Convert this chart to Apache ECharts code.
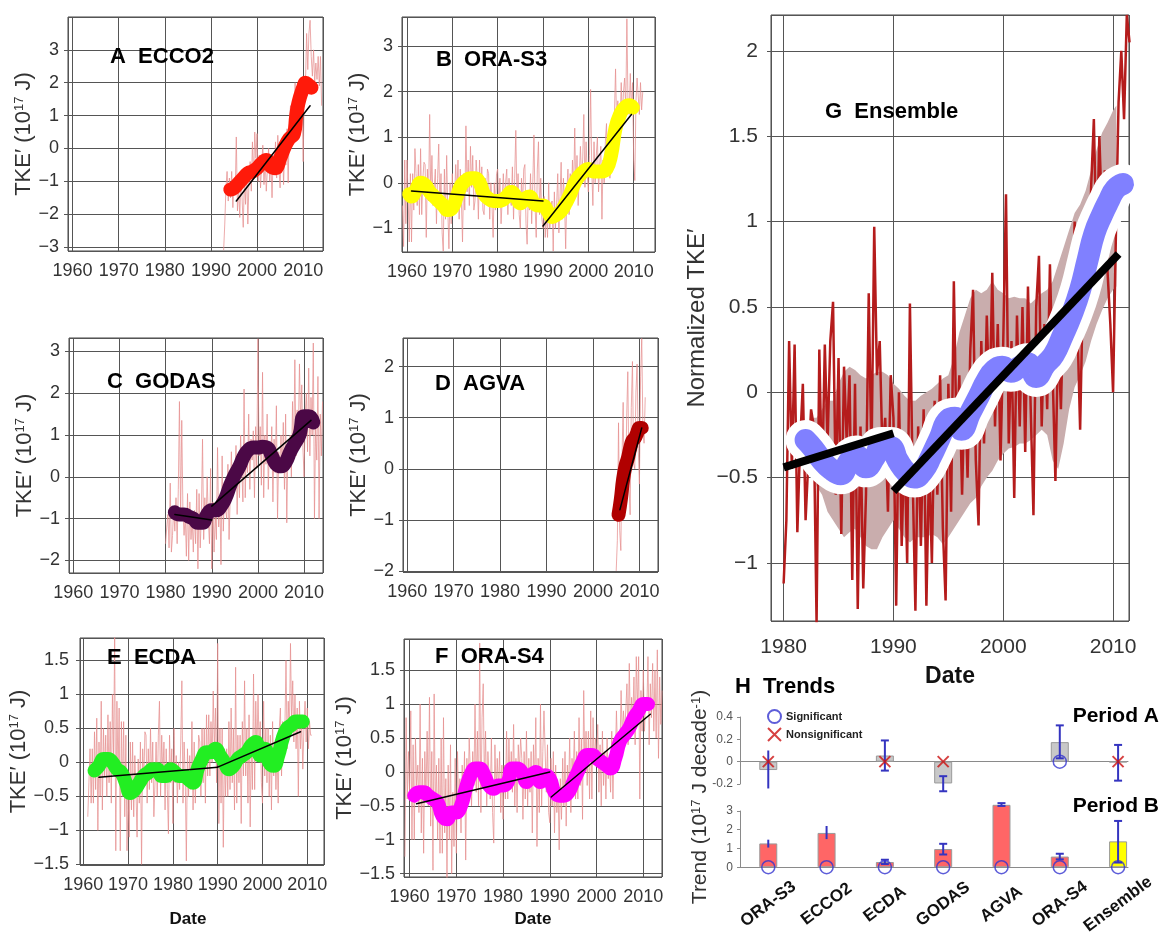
<!DOCTYPE html>
<html><head><meta charset="utf-8">
<script src="https://cdn.jsdelivr.net/npm/echarts@6/dist/echarts.min.js"></script>
<style>html,body{margin:0;padding:0;background:#fff}#c{width:1160px;height:937px}</style>
</head><body><div id="c"></div>
<script>
// ---------- DATA ----------
const STEP = 0.25; // noisy series: quarterly samples
// A ECCO2
const aNoiseStart = 1992.75;
const aNoise = [-3.1,
 -2.3,-1.2,-0.7,-1.6, -0.9,-1.5,-0.7,-1.8, -1.0,-1.4,0.35,-1.9, -1.2,-2.1,-0.8,-1.5,
 -2.4,-0.9,-1.7,-0.6, -2.3,-1.0,-0.4,-1.3, 0.2,-0.9,0.5,-0.3, 0.45,-1.0,-0.2,-1.2,
 -0.5,0.1,-1.1,-0.3, -1.3,-0.6,0.0,-1.0, -0.4,-1.5,-0.2,-0.8, 0.2,-0.9,0.4,-0.6,
 -1.2,-0.1,0.3,-1.1, 0.1,-0.5,0.6,-1.05, 0.8,1.3,0.3,1.1, 0.5,2.0,0.9,1.5,
 0.7,2.0,1.2,1.6, -0.4,1.8,2.0,3.5, 2.4,3.5,3.9,2.8, 2.2,3.0,2.0,2.6, 2.1,2.8,1.9,2.8, 1.3];
const aSmoothYears = [1994.2,1995,1996,1997,1998,1999,2000,2001,2002,2003,2004,2005,2006,2007,2008,2008.5,2009,2010,2010.5,2011,2011.8];
const aSmooth = [-1.25,-1.2,-1.05,-0.9,-0.75,-0.7,-0.6,-0.45,-0.35,-0.55,-0.6,-0.3,0.05,0.3,0.45,1.0,1.4,1.85,2.0,1.95,1.85];
const aTrend = [[1995.5,-1.6,2011.5,1.3]];
// B ORA-S3
const bNoiseStart = 1959.0;
const bNoise = [
 -0.5,-1.4,0.5,-0.9, 0.5,-0.3,-1.3,0.2, -1.3,0.2,-0.6,0.75, 0.2,-0.5,0.4,-0.7, 0.75,-0.7,0.1,0.45,
 0.4,-1.2,0.3,-0.4, 1.5,-0.3,0.6,-0.5, -0.5,0.3,-0.9,0.1, 0.85,-0.6,0.2,-1.1, -1.5,0.3,-0.8,0.6,
 -0.6,-1.45,0.0,-0.9, 0.2,-0.7,-0.3,0.4, -0.3,0.5,-0.8,0.3, -0.4,-1.3,0.2,-0.6, 1.25,-0.2,0.5,-0.5,
 0.8,-0.1,0.6,-0.6, -0.4,0.5,0.1,-0.8, 0.5,-0.3,0.35,-0.6, -0.7,0.1,-0.4,0.3, 0.2,-0.8,0.0,-0.5,
 -1.2,0.0,-0.6,0.2, 0.3,-0.5,0.1,-0.9, -0.9,0.2,-0.4,0.0, 0.3,-0.7,0.1,-0.3, -0.5,0.35,-0.8,0.1,
 1.15,-0.4,0.2,-0.7, -1.0,0.1,-0.5,0.3, 0.4,-0.9,-1.35,-0.2, -0.6,0.2,-0.9,0.0, 1.05,-0.5,-1.2,0.3,
 0.9,-0.7,0.1,-0.8, -1.0,-0.3,-1.2,-0.6, -1.2,0.0,-1.0,-0.5, -0.4,-1.5,-0.2,-1.0, -0.5,0.2,-1.1,-0.3,
 0.45,-0.8,0.1,-0.4, -1.45,-0.2,0.3,-0.7, 0.2,-0.4,0.5,-0.2, 1.2,-0.3,0.6,-0.5, -0.5,0.8,0.1,0.5,
 1.5,-0.1,0.9,0.2, -0.2,0.6,2.05,0.3, -0.5,0.9,0.0,0.6, 1.0,-0.2,0.4,0.8, -0.8,0.5,0.0,0.9,
 1.3,0.2,0.7,0.1, 0.1,0.8,0.4,1.5, 2.5,1.2,1.8,1.0, 1.2,2.2,1.4,2.0, 2.3,1.6,3.6,1.7,
 1.5,2.4,1.6,2.2, 0.5,0.05,1.8,2.3, 2.3,1.5,2.2,1.6, 2.0];
const bSmoothYears = [1960.5,1961,1962,1963,1964,1965,1966,1967,1968,1969,1970,1971,1972,1973,1974,1975,1976,1977,1978,1979,1980,1981,1982,1983,1984,1985,1986,1987,1988,1989,1990,1991,1992,1993,1994,1995,1996,1997,1998,1999,2000,2001,2002,2003,2004,2005,2006,2007,2008,2009,2009.8];
const bSmooth = [-0.25,-0.3,-0.15,0.0,-0.05,-0.2,-0.3,-0.4,-0.5,-0.6,-0.55,-0.3,-0.05,0.05,0.1,0.1,0.0,-0.25,-0.35,-0.4,-0.4,-0.38,-0.3,-0.2,-0.3,-0.45,-0.35,-0.3,-0.45,-0.5,-0.5,-0.62,-0.75,-0.7,-0.62,-0.45,-0.25,0.0,0.15,0.25,0.3,0.25,0.25,0.25,0.3,0.6,1.2,1.5,1.65,1.7,1.65];
const bTrend = [[1961,-0.18,1990,-0.4],[1990,-0.95,2009.5,1.5]];
// C GODAS
const cNoiseStart = 1980.0;
const cNoise = [
 -1.6,-1.2,-0.9,-1.7, -0.15,-1.8,-1.4,-0.7, -1.3,-0.5,-1.6,-0.3, 1.8,-1.0,1.35,-0.8, -1.4,-0.9,-1.9,-0.4,
 -2.0,-0.6,-1.5,-1.0, -1.8,-0.8,-1.6,-0.3, -2.2,-0.4,-1.7,-0.9, 0.9,-1.5,-0.5,-1.2, 0.0,-1.0,-1.6,0.2,
 -2.2,-0.6,-1.8,-0.9, -1.5,0.7,-1.2,-0.5, -2.1,0.5,-1.3,-0.4, -0.8,-1.0,0.3,-1.5, -1.5,0.6,-0.4,0.3,
 -0.3,0.75,-0.9,0.4, -0.5,1.0,0.2,-0.6, 2.1,-0.5,0.8,0.1, 1.5,-0.3,0.9,0.4, 1.1,-0.5,1.2,0.2,
 3.3,0.5,1.2,-0.2, 2.5,-0.5,1.0,0.3, 1.5,-0.3,0.8,0.2, 1.2,-0.6,0.9,0.1, 1.7,-1.0,0.6,0.2,
 1.0,0.2,1.3,-0.3, 1.5,-1.1,0.7,0.4, 1.0,0.0,1.8,0.6, 2.8,0.5,1.6,0.9, 2.7,1.3,2.2,0.7,
 0.0,1.5,2.0,0.6, 2.6,0.5,1.9,1.0, 3.2,-1.0,1.2,0.4, 2.4,-1.0,1.5,0.5, 1.8];
const cSmoothYears = [1982,1983,1984,1985,1986,1987,1988,1989,1990,1991,1992,1993,1994,1995,1996,1997,1998,1999,2000,2001,2002,2003,2004,2005,2006,2007,2008,2009,2010,2011,2012];
const cSmooth = [-0.85,-0.9,-0.9,-0.95,-1.0,-1.1,-1.1,-0.9,-0.8,-0.8,-0.7,-0.5,-0.2,0.05,0.25,0.5,0.65,0.7,0.7,0.72,0.7,0.5,0.3,0.25,0.35,0.6,0.8,1.0,1.45,1.45,1.3];
const cTrend = [[1982,-0.9,1990,-1.03],[1990,-0.7,2011.5,1.35]];
// D AGVA
const dNoiseStart = 2005.0;
const dNoise = [-2.0,-1.4,0.9,-1.2, -1.6,0.2,1.3,-0.9, -0.6,1.0,1.9,-0.3, -0.9,1.2,2.1,0.1, 0.0,1.5,2.05,0.4, -0.3,1.8,2.55,0.8, 0.5,1.4];
const dSmoothYears = [2005.5,2006,2006.5,2007,2007.5,2008,2008.5,2009,2009.5,2010,2010.5];
const dSmooth = [-0.9,-0.6,-0.2,0.05,0.2,0.4,0.55,0.6,0.7,0.8,0.8];
const dTrend = [[2005.8,-0.8,2010.5,0.8]];
// E ECDA
const eNoiseStart = 1961.0;
const eNoise = [
 -0.8,-0.3,0.2,-0.6, 0.2,-0.6,0.45,-0.4, 0.65,-1.0,0.3,-0.5, 0.9,-0.7,0.5,-0.2, 0.4,-0.5,0.7,-0.3,
 0.6,-0.6,1.0,0.1, 1.85,-1.3,0.9,-0.2, 0.8,-1.3,0.6,-0.5, 0.6,-0.8,0.4,-1.3, -0.5,-1.1,0.3,-0.7,
 0.3,-0.8,0.1,-0.4, -1.1,0.05,-0.6,0.3, -1.5,0.2,-0.3,0.45, 0.4,-0.6,0.2,-0.4, 0.5,-0.3,0.3,-0.8,
 -0.3,0.3,-0.5,0.4, 0.9,-0.5,0.4,-0.2, 0.3,-0.7,0.2,-0.4, -1.05,0.4,-0.3,0.2, -0.9,0.5,-0.3,0.1,
 -0.6,0.0,-0.4,0.3, 1.2,-0.6,0.3,-0.2, -1.45,0.2,-0.5,0.1, -0.4,0.6,-0.7,0.3, -0.6,0.1,-0.3,0.4,
 0.3,-0.5,0.5,-0.3, 0.5,-0.6,0.7,-0.2, 0.7,-0.2,0.6,0.0, 1.05,0.2,0.8,-0.3, 1.75,-0.9,0.5,-0.6,
 0.5,-1.25,0.2,-0.5, 0.2,-0.5,0.6,-0.4, 0.8,-0.3,0.5,-0.7, 1.4,-0.6,0.4,-0.3, 0.4,-0.9,0.6,-0.2,
 1.2,-0.2,0.5,-0.6, 0.7,-0.95,0.3,-0.4, 1.3,-0.4,0.9,0.1, 1.0,0.2,0.6,-0.3, -0.6,0.9,-0.2,0.5,
 -0.3,0.5,-0.5,0.4, -0.7,0.6,-0.2,0.3, -0.4,0.2,-0.6,0.5, 0.8,-0.2,0.6,0.1, 0.5,1.5,0.2,0.9,
 0.4,1.75,0.6,1.2, 0.3,1.0,0.2,0.8, -0.5,0.9,0.2,0.6, -0.1,0.5,0.9,0.3, 0.8,0.2,0.6,0.4, 0.4];
const eSmoothYears = [1962.5,1963.5,1964.5,1965.5,1966.5,1967.5,1968.5,1969.5,1970.5,1971.5,1972.5,1973.5,1974.5,1975.5,1976.5,1977.5,1978.5,1979.5,1980.5,1981.5,1982.5,1983.5,1984.5,1985.5,1986.5,1987.5,1988.5,1989.5,1990.5,1991.5,1992.5,1993.5,1994.5,1995.5,1996.5,1997.5,1998.5,1999.5,2000.5,2001.5,2002.5,2003.5,2004.5,2005.5,2006.5,2007.5,2008.5,2009];
const eSmooth = [-0.12,-0.05,0.05,0.05,0.0,-0.1,-0.15,-0.3,-0.45,-0.4,-0.3,-0.2,-0.15,-0.1,-0.1,-0.2,-0.2,-0.1,-0.15,-0.2,-0.2,-0.25,-0.3,-0.1,0.05,0.15,0.15,0.2,0.1,0.0,-0.1,-0.05,0.05,0.1,0.15,0.25,0.3,0.1,0.2,0.0,-0.05,0.1,0.35,0.5,0.55,0.6,0.6,0.6];
const eTrend = [[1963.5,-0.22,1990,-0.07],[1990,-0.07,2008.5,0.45]];
// F ORA-S4
const fNoiseStart = 1959.0;
const fNoise = [
 -1.25,0.8,-0.4,0.3, -0.3,0.9,-1.0,0.4, -1.0,0.5,-0.2,0.1, -0.6,1.0,-0.9,0.2, -1.2,0.3,-0.4,0.6,
 -0.5,1.1,-0.8,0.3, -1.45,1.15,-0.6,0.1, -1.0,0.2,-1.2,0.5, -1.2,0.8,-0.9,-0.1, -1.6,0.1,-1.0,0.4,
 -1.5,-0.3,-1.1,0.2, -1.2,0.3,-0.6,-0.1, -0.9,0.1,-0.5,0.3, -1.3,0.2,-0.4,0.5, 0.5,-0.5,0.3,-0.2,
 1.0,-0.3,0.6,-0.5, 1.9,-0.6,0.8,1.3, -0.2,0.6,-0.5,0.3, 0.3,-0.4,0.5,-0.6, -1.05,0.4,-0.3,0.2,
 -0.3,0.3,-0.6,0.1, -0.7,0.1,-0.4,0.6, -0.4,0.5,-0.2,0.3, -0.3,0.7,-0.5,0.2, -0.6,0.4,0.0,0.5,
 0.2,-0.7,0.3,-0.4, 0.6,-0.5,0.2,-0.3, 0.3,-0.9,0.4,-0.2, 0.8,-1.1,0.2,-0.6, 1.0,-0.5,0.3,0.9,
 0.9,-0.3,0.4,-0.6, -0.75,0.2,-0.5,0.3, -0.9,0.1,-0.6,-0.2, -1.15,-0.1,-0.7,0.2, -0.5,0.3,-0.8,0.1,
 -0.3,0.5,-0.6,0.2, -0.1,0.6,-0.4,0.3, -0.4,0.8,-0.2,0.5, -0.7,1.2,0.0,0.6, -0.2,0.6,-0.4,0.9,
 -0.4,0.8,0.1,0.5, 0.1,0.7,-0.3,0.4, -0.5,0.6,-0.2,0.3, -0.4,0.5,-0.1,0.2, -0.3,0.6,-0.4,0.4,
 0.1,0.9,0.3,0.6, 0.3,1.2,0.5,0.9, 0.6,0.9,1.3,0.4, 1.6,0.6,1.1,0.8, 1.4,0.4,1.7,0.9,
 1.7,-0.4,1.2,0.6, 1.5,0.6,1.1,0.9, 1.7,0.4,1.3,0.8, 1.6,0.6,1.5,0.5, 1.8,0.2,1.4,0.7, 1.2];
const fSmoothYears = [1961,1962,1963,1964,1965,1966,1967,1968,1969,1970,1971,1972,1973,1974,1975,1976,1977,1978,1979,1980,1981,1982,1983,1984,1985,1986,1987,1988,1989,1990,1991,1992,1993,1994,1995,1996,1997,1998,1999,2000,2001,2002,2003,2004,2005,2006,2007,2008,2009,2010,2011];
const fSmooth = [-0.35,-0.3,-0.3,-0.35,-0.4,-0.45,-0.65,-0.7,-0.6,-0.6,-0.5,-0.25,-0.05,0.05,0.05,-0.05,-0.2,-0.25,-0.2,-0.2,-0.15,0.05,0.05,0.0,-0.15,-0.05,0.0,-0.15,-0.05,-0.1,-0.3,-0.35,-0.35,-0.3,-0.15,0.0,0.15,0.25,0.25,0.2,0.15,0.1,0.05,0.2,0.45,0.55,0.65,0.8,0.9,1.0,1.0];
const fTrend = [[1961.5,-0.47,1990,0.0],[1990.3,-0.37,2011.5,0.85]];
// G Ensemble
const gNoiseStart = 1980.0;
const gNoise = [
 -1.12,-0.75,0.30,-0.45, 0.28,-0.82,-0.30,0.05, -0.75,-0.40,-0.10,-0.20, -1.35,0.25,-0.55,0.28,
 -0.30,0.30,0.53,-0.60, 0.20,-0.83,0.15,-0.30, 0.10,-1.10,0.05,-1.27, -0.20,-1.15,-0.60,0.58,
 -0.40,0.97,0.10,0.30, -0.35,-0.15,-0.70,0.10, -0.15,-1.25,0.00,-0.90, -0.30,-1.00,0.52,-0.50,
 -1.28,-0.20,-0.90,-0.10, -1.25,-0.40,-1.00,-0.05, -0.60,0.10,-0.80,-1.22, 0.05,-0.70,0.65,-0.30,
 0.10,-0.60,0.05,-0.50, 0.25,0.60,-0.40,-0.78, 0.30,-0.30,0.45,-0.10, 0.70,-0.20,0.40,-0.40,
 0.30,1.16,-0.30,0.30, -0.62,0.45,-0.20,0.50, -0.35,0.62,-0.10,-0.72, 0.50,0.80,-0.20,0.40,
 -0.10,0.75,0.10,-0.52, 0.35,-0.10,0.55,0.20, 0.70,0.30,1.00,0.40, -0.22,0.60,0.90,0.50,
 1.20,1.60,0.80,1.50, 1.00,1.30,0.70,0.40, 0.00,0.90,1.70,2.00, 1.60,2.21,2.05];
const gBandYears = [1981.8,1982.5,1983,1983.5,1984,1984.5,1985,1985.5,1986,1986.5,1987,1987.5,1988,1988.5,1989,1989.5,1990,1990.5,1991,1991.5,1992,1992.5,1993,1993.5,1994,1994.5,1995,1995.5,1996,1996.5,1997,1997.5,1998,1998.5,1999,1999.5,2000,2000.5,2001,2001.5,2002,2002.5,2003,2003.5,2004,2004.5,2005,2005.5,2006,2006.5,2007,2007.5,2008,2008.5,2009,2009.5,2010,2010.3];
const gBandLow = [-0.30,-0.45,-0.55,-0.60,-0.70,-0.75,-0.80,-0.85,-0.82,-0.80,-0.85,-0.90,-0.92,-0.92,-0.85,-0.80,-0.75,-0.80,-0.85,-0.88,-0.85,-0.85,-0.85,-0.83,-0.85,-0.89,-0.85,-0.80,-0.75,-0.70,-0.65,-0.62,-0.55,-0.50,-0.46,-0.40,-0.36,-0.33,-0.32,-0.30,-0.30,-0.28,-0.25,-0.22,-0.25,-0.40,-0.45,-0.30,-0.10,0.03,0.10,0.18,0.30,0.40,0.48,0.55,0.60,0.62];
const gBandHigh = [-0.25,-0.15,-0.15,-0.10,-0.05,-0.05,0.05,0.12,0.15,0.13,0.10,0.08,0.10,0.12,0.12,0.10,0.05,0.02,-0.02,-0.05,-0.05,-0.02,0.00,0.02,0.05,0.08,0.10,0.20,0.35,0.45,0.55,0.60,0.58,0.60,0.65,0.60,0.58,0.55,0.56,0.55,0.55,0.52,0.55,0.58,0.60,0.65,0.75,0.85,0.95,1.05,1.10,1.18,1.30,1.42,1.52,1.58,1.65,1.68];
const gSmoothYears = [1982.0,1982.7,1983.5,1984.3,1985.2,1986.0,1986.6,1987.5,1988.3,1988.9,1989.7,1990.4,1991.2,1991.9,1992.7,1993.4,1994.2,1995.0,1995.6,1996.2,1997.0,1997.8,1998.5,1999.2,1999.9,2000.7,2001.5,2002.2,2003.0,2003.8,2004.6,2005.4,2006.2,2007.0,2007.7,2008.3,2009.0,2009.6,2010.2,2010.9];
const gSmooth = [-0.28,-0.33,-0.40,-0.45,-0.48,-0.40,-0.37,-0.44,-0.38,-0.32,-0.32,-0.40,-0.47,-0.50,-0.46,-0.38,-0.27,-0.16,-0.15,-0.22,-0.12,-0.02,0.07,0.13,0.15,0.12,0.15,0.17,0.09,0.16,0.22,0.33,0.45,0.60,0.78,0.93,1.04,1.12,1.19,1.22];
const gTrend = [[1980,-0.44,1990,-0.24],[1990,-0.58,2010.5,0.81]];
// H Trends
const hNames = ['ORA-S3','ECCO2','ECDA','GODAS','AGVA','ORA-S4','Ensemble'];
const trendA = [-0.075, null, 0.055, -0.195, null, 0.175, -0.005];
const errALow = [-0.24, null, -0.08, -0.265, null, 0.03, -0.17];
const errAHigh = [0.10, null, 0.19, -0.13, null, 0.325, 0.15];
const sigA = [false, null, false, false, null, true, false];
const trendB = [1.27, 1.83, 0.28, 0.97, 3.33, 0.57, 1.38];
const errBLow = [1.05, 1.50, 0.17, 0.68, 3.27, 0.42, 0.25];
const errBHigh = [1.47, 2.20, 0.40, 1.25, 3.42, 0.72, 2.47];
const sigB = [true, true, true, true, true, true, true];

// ---------- BUILD ----------
const FONT = '"Liberation Sans", Arial, sans-serif';
const grids = [], xAxes = [], yAxes = [], series = [], graphics = [];
const minus = v => String(v).replace('-', '\u2212');

function addTimePanel(p) {
  const gi = grids.length;
  grids.push({left:p.box[0], top:p.box[1], width:p.box[2], height:p.box[3], show:true, borderColor:'#444', borderWidth:1});
  xAxes.push({gridIndex:gi, type:'value', min:p.x[0], max:p.x[1], minInterval:p.xs, maxInterval:p.xs,
    axisLine:{show:false}, axisTick:{show:true, length:4, lineStyle:{color:'#555'}},
    splitLine:{show:true, lineStyle:{color:'#555', width:1}},
    axisLabel:{showMinLabel:false, showMaxLabel:false, fontSize:p.fs, color:'#333', fontFamily:FONT, margin:p.xm,
      formatter: v => String(Math.round(v))},
    name: p.xName || '', nameLocation:'middle', nameGap:p.xng || 30,
    nameTextStyle:{fontSize:p.xnfs || 17, fontWeight:'bold', color:'#111', fontFamily:FONT, padding:p.xpad || 0}
  });
  yAxes.push({gridIndex:gi, type:'value', min:p.y[0], max:p.y[1], minInterval:p.ys, maxInterval:p.ys,
    axisLine:{show:false}, axisTick:{show:true, length:4, lineStyle:{color:'#555'}},
    splitLine:{show:true, lineStyle:{color:'#555', width:1}},
    axisLabel:{showMinLabel:false, showMaxLabel:false, fontSize:p.fs, color:'#333', fontFamily:FONT, margin:p.ym, formatter:minus},
    name: p.yName, nameLocation:'middle', nameGap:p.yng,
    nameTextStyle:{fontSize:p.ynfs, color:'#333', fontFamily:FONT, rich:{s:{fontSize:Math.round(p.ynfs*0.6), verticalAlign:'top', color:'#333', fontFamily:FONT}}}
  });
  const ax = {xAxisIndex:gi, yAxisIndex:gi};
  if (p.band) {
    const band = p.band;
    series.push(Object.assign({type:'custom', silent:true, z:1, clip:true,
      data: band.years.map((t,i)=>[t, band.low[i], band.high[i]]), encode:{x:0, y:[1,2]},
      renderItem: (params, api) => {
        if (params.dataIndex !== 0) return null;
        const pts = [];
        band.years.forEach((t,i) => pts.push(api.coord([t, band.high[i]])));
        for (let i = band.years.length-1; i >= 0; i--) pts.push(api.coord([band.years[i], band.low[i]]));
        return {type:'polygon', shape:{points:pts}, style:{fill:'#c9adad'}};
      }}, ax));
  }
  series.push(Object.assign({type:'line', silent:true, showSymbol:false, z:2,
    lineStyle:{color:p.noiseColor, width:p.noiseWidth, opacity:p.noiseOpacity},
    data: p.noise.map((v,i)=>[p.start + i*STEP, v])}, ax));
  if (p.outline) {
    series.push(Object.assign({type:'line', silent:true, showSymbol:false, smooth:0.5, z:3,
      lineStyle:{color:'#ffffff', width:p.outline, cap:'round', join:'round'},
      data: p.smX.map((t,i)=>[t, p.smY[i]])}, ax));
  }
  series.push(Object.assign({type:'line', silent:true, showSymbol:false, smooth:0.5, z:4,
    lineStyle:{color:p.color, width:p.smW, cap:'round', join:'round'},
    data: p.smX.map((t,i)=>[t, p.smY[i]])}, ax));
  p.trend.forEach(s => series.push(Object.assign({type:'line', silent:true, showSymbol:false, z:5,
    lineStyle:{color:'#000', width:p.trW, cap:p.trW>3?'butt':'round'},
    data:[[s[0],s[1]],[s[2],s[3]]]}, ax)));
  graphics.push({type:'text', x:p.tpos[0], y:p.tpos[1], z:50,
    style:{text:p.title, fontSize:p.tfs, fontWeight:'bold', fontFamily:FONT, fill:'#000', align:'left', verticalAlign:'middle'}});
}

const YN = 'TKE\u2032 (10{s|17} J)';
const common = {xs:10, fs:18, xm:11, ym:9, yName:YN, ynfs:22, noiseColor:'#e58f8f', noiseWidth:1, noiseOpacity:0.75, smW:14, trW:1.5, tfs:22};
const defs = [
  {title:'A  ECCO2', tpos:[110,57], box:[68,17,255,234], x:[1959,2014.3], y:[-3.12,4.0], ys:1, yng:30,
   start:aNoiseStart, noise:aNoise, smX:aSmoothYears, smY:aSmooth, trend:aTrend, color:'#ff1a0a'},
  {title:'B  ORA-S3', tpos:[436,60], box:[402,17,253,235], x:[1958.9,2014.7], y:[-1.52,3.64], ys:1, yng:33,
   start:bNoiseStart, noise:bNoise, smX:bSmoothYears, smY:bSmooth, trend:bTrend, color:'#ffff00'},
  {title:'C  GODAS', tpos:[107,382], box:[69,338,254,235], x:[1959.07,2014.1], y:[-2.3,3.32], ys:1, yng:30,
   start:cNoiseStart, noise:cNoise, smX:cSmoothYears, smY:cSmooth, trend:cTrend, color:'#4b0846'},
  {title:'D  AGVA', tpos:[435,384], box:[403,338,255,234], x:[1959.1,2014], y:[-2.02,2.56], ys:1, yng:30,
   start:dNoiseStart, noise:dNoise, smX:dSmoothYears, smY:dSmooth, trend:dTrend, color:'#b00000'},
  {title:'E  ECDA', tpos:[107,658], box:[80,638,244,227], x:[1959.26,2013.73], y:[-1.51,1.83], ys:0.5, yng:44, ym:11,
   xName:'Date', xng:46, xpad:[0,28,0,0],
   start:eNoiseStart, noise:eNoise, smX:eSmoothYears, smY:eSmooth, trend:eTrend, color:'#22ee22'},
  {title:'F  ORA-S4', tpos:[435,657], box:[404,639,258,238], x:[1958.8,2014], y:[-1.55,1.96], ys:0.5, yng:45,
   xName:'Date', xng:34,
   start:fNoiseStart, noise:fNoise, smX:fSmoothYears, smY:fSmooth, trend:fTrend, color:'#ff00ff'},
  {title:'G  Ensemble', tpos:[825,112], box:[771,15,358,606], x:[1978.85,2011.45], y:[-1.34,2.21], ys:0.5, yng:62,
   fs:21, xm:16, ym:13, yName:'Normalized TKE\u2032', ynfs:24, xName:'Date', xng:44, xnfs:23,
   noiseColor:'#b51c1c', noiseWidth:2.5, noiseOpacity:1, smW:22, outline:40, trW:8,
   band:{years:gBandYears, low:gBandLow, high:gBandHigh},
   start:gNoiseStart, noise:gNoise, smX:gSmoothYears, smY:gSmooth, trend:gTrend, color:'#8080ff'}
];
defs.forEach(d => addTimePanel(Object.assign({}, common, d)));

// ---- H panel ----
const noCapNames = ['ORA-S3','ECCO2']; // error bars drawn without end caps
function addTrendPanel(box, yr, ystep, bars, lo, hi, sig, barColor, showCats) {
  const gi = grids.length;
  grids.push({left:box[0], top:box[1], width:box[2], height:box[3], show:false});
  xAxes.push({gridIndex:gi, type:'value', min:0.515, max:7.17, minInterval:1, maxInterval:1,
    axisLine:{show:true, onZero:true, lineStyle:{color:'#8a8a8a', width:1}}, axisTick:{show:false}, splitLine:{show:false},
    axisLabel: showCats ? {show:true, rotate:37, align:'center', verticalAlign:'middle', margin:37, fontSize:17, fontWeight:'bold', color:'#111', fontFamily:FONT,
      formatter: v => { const i = Math.round(v); return (Math.abs(v-i) < 1e-6 && i >= 1 && i <= 7) ? hNames[i-1] : ''; }} : {show:false}
  });
  yAxes.push({gridIndex:gi, type:'value', min:yr[0], max:yr[1], interval:ystep,
    axisLine:{show:true, lineStyle:{color:'#8a8a8a', width:1}}, axisTick:{show:true, length:3, lineStyle:{color:'#8a8a8a'}}, splitLine:{show:false},
    axisLabel:{fontSize:12, color:'#555', fontFamily:FONT, margin:7}
  });
  const ax = {xAxisIndex:gi, yAxisIndex:gi};
  const barData = [];
  bars.forEach((v,i) => { if (v !== null) barData.push({value:[i+1, v], itemStyle:{color: barColor(i)}}); });
  series.push(Object.assign({type:'bar', silent:true, barWidth:18, clip:false, data:barData,
    itemStyle:{borderColor:'#9a9a9a', borderWidth:1}}, ax));
  const errData = [];
  lo.forEach((v,i) => { if (v !== null) errData.push([i+1, v, hi[i]]); });
  series.push(Object.assign({type:'custom', silent:true, z:4, clip:false, data:errData, encode:{x:0, y:[1,2]},
    renderItem: (params, api) => {
      const x = api.value(0), a = api.coord([x, api.value(2)]), b = api.coord([x, api.value(1)]);
      const st = {stroke:'#3434c0', lineWidth:2};
      const w = noCapNames.indexOf(hNames[Math.round(x)-1]) >= 0 ? 0 : 4;
      const kids = [{type:'line', shape:{x1:a[0], y1:a[1], x2:b[0], y2:b[1]}, style:st}];
      if (w) {
        kids.push({type:'line', shape:{x1:a[0]-w, y1:a[1], x2:a[0]+w, y2:a[1]}, style:st});
        kids.push({type:'line', shape:{x1:b[0]-w, y1:b[1], x2:b[0]+w, y2:b[1]}, style:st});
      }
      return {type:'group', children:kids};
    }}, ax));
  const sigPts = [], nonPts = [];
  sig.forEach((s,i) => { if (s === true) sigPts.push([i+1, 0]); else if (s === false) nonPts.push([i+1, 0]); });
  series.push(Object.assign({type:'scatter', name:'Significant', silent:true, z:6, clip:false, symbol:'circle', symbolSize:13,
    itemStyle:{color:'rgba(0,0,0,0)', borderColor:'#3434d0', borderWidth:1.5}, data:sigPts}, ax));
  series.push(Object.assign({type:'scatter', name:'Nonsignificant', silent:true, z:6, clip:false, symbol:'path://M0,0L10,10M10,0L0,10', symbolSize:11,
    itemStyle:{color:'rgba(0,0,0,0)', borderColor:'#cc1111', borderWidth:2}, data:nonPts}, ax));
}
addTrendPanel([740,717,388,67], [-0.2,0.4], 0.2, trendA, errALow, errAHigh, sigA, () => '#c8c8c8', false);
addTrendPanel([740,811,388,59], [0,3], 1, trendB, errBLow, errBHigh, sigB, i => i === 6 ? '#ffff00' : '#ff6666', true);

graphics.push({type:'text', x:735, y:687, z:50, style:{text:'H  Trends', fontSize:22, fontWeight:'bold', fontFamily:FONT, fill:'#000', align:'left', verticalAlign:'middle'}});
graphics.push({type:'text', x:1159, y:716, z:50, style:{text:'Period A', fontSize:21, fontWeight:'bold', fontFamily:FONT, fill:'#000', align:'right', verticalAlign:'middle'}});
graphics.push({type:'text', x:1159, y:806, z:50, style:{text:'Period B', fontSize:21, fontWeight:'bold', fontFamily:FONT, fill:'#000', align:'right', verticalAlign:'middle'}});
graphics.push({type:'text', x:700, y:797, rotation:Math.PI/2, z:50,
  style:{text:'Trend (10{s|17} J decade{s|-1})', fontSize:21, fontFamily:FONT, fill:'#333', align:'center', verticalAlign:'middle',
    rich:{s:{fontSize:13, verticalAlign:'top', fontFamily:FONT, fill:'#333'}}}});

const chart = echarts.init(document.getElementById('c'));
chart.setOption({
  animation:false,
  backgroundColor:'#ffffff',
  grid:grids, xAxis:xAxes, yAxis:yAxes, series:series, graphic:graphics,
  legend:{left:762, top:704, orient:'vertical', itemWidth:13, itemHeight:13, itemGap:3, selectedMode:false,
    textStyle:{fontSize:11, fontWeight:'bold', color:'#222', fontFamily:FONT},
    data:['Significant','Nonsignificant']}
});
</script></body></html>
